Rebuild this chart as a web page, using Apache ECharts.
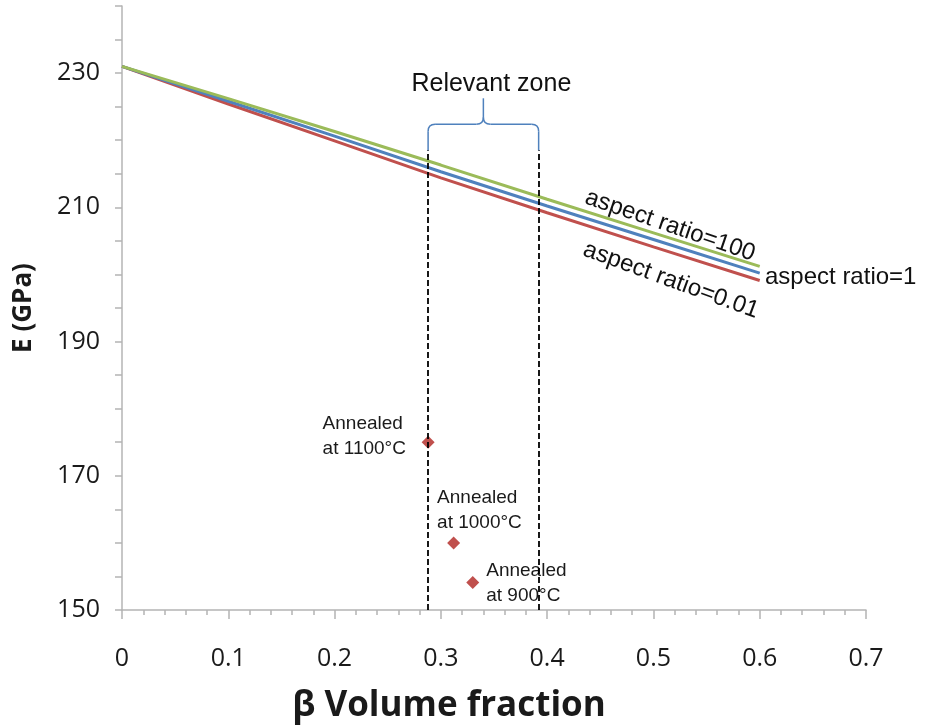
<!DOCTYPE html>
<html>
<head>
<meta charset="utf-8">
<script src="https://cdn.jsdelivr.net/npm/echarts@6/dist/echarts.min.js"></script>
<style>
  html, body { margin: 0; padding: 0; background: #fff; }
  #chart { width: 929px; height: 727px; }
</style>
</head>
<body>
<div id="chart"></div>
<script>
// beta volume fraction sample points
const xValues = [0, 0.1, 0.2, 0.3, 0.4, 0.5, 0.6]
// E (GPa) for each inclusion aspect ratio
const ratio100 = [231.0, 226.2, 221.3, 216.3, 211.2, 206.2, 201.2]
const ratio1 = [231.0, 225.8, 220.6, 215.3, 210.2, 205.2, 200.2]
const ratio001 = [231.0, 225.4, 219.9, 214.4, 209.2, 204.1, 199.1]

// measured annealed samples
const annealX = [0.288, 0.312, 0.330]
const annealE = [175.0, 160.0, 154.1]
const annealNames = ['Annealed\nat 1100°C', 'Annealed\nat 1000°C', 'Annealed\nat 900°C']
const annealLabelOffsets = [[-99, -24], [-10, -51], [20, -18]]

// relevant zone bounds
const zoneX = [0.288, 0.392]
const zoneTopE = 218.5

const yLabelValues = [150, 170, 190, 210, 230]

const axisColor = '#b4b4b4'
const textColor = '#1a1a1a'
const tickFont = 'Open Sans'
const noteFont = 'Liberation Sans'

const lineSeries = (name, values, color) => ({
  name,
  type: 'line',
  data: xValues.map((x, i) => [x, values[i]]),
  showSymbol: false,
  symbol: 'none',
  lineStyle: { color, width: 3 },
  z: 3,
})

const chart = echarts.init(document.getElementById('chart'))

const option = {
  animation: false,
  backgroundColor: '#fff',
  grid: {
    left: 122,
    right: 63,
    top: 6,
    bottom: 117,
    containLabel: false,
    outerBoundsMode: 'none',
  },
  xAxis: {
    type: 'value',
    min: 0,
    max: 0.7,
    interval: 0.1,
    name: 'β Volume fraction',
    nameLocation: 'middle',
    nameGap: 79,
    nameTextStyle: {
      fontFamily: tickFont,
      fontWeight: 'bold',
      fontSize: 35,
      color: textColor,
      padding: [0, 90, 0, 0],
    },
    axisLine: { show: true, onZero: false, lineStyle: { color: axisColor, width: 1.5 } },
    axisTick: { show: true, length: 9, lineStyle: { color: axisColor, width: 1.5 } },
    minorTick: { show: true, splitNumber: 5, length: 5, lineStyle: { color: axisColor, width: 1.5 } },
    splitLine: { show: false },
    axisLabel: {
      margin: 36,
      fontFamily: tickFont,
      fontSize: 25,
      color: textColor,
      formatter: (v) => String(+v.toFixed(1)),
    },
  },
  yAxis: {
    type: 'value',
    min: 150,
    max: 240,
    interval: 5,
    name: 'E (GPa)',
    nameLocation: 'middle',
    nameGap: 85,
    nameTextStyle: {
      fontFamily: tickFont,
      fontWeight: 'bold',
      fontSize: 26,
      color: textColor,
    },
    axisLine: { show: true, onZero: false, lineStyle: { color: axisColor, width: 1.5 } },
    axisTick: { show: true, length: 7, lineStyle: { color: axisColor, width: 1.5 } },
    splitLine: { show: false },
    axisLabel: {
      margin: 22,
      fontFamily: tickFont,
      fontSize: 25,
      color: textColor,
      formatter: (v) => (yLabelValues.includes(v) ? String(v) : ''),
    },
  },
  series: [
    lineSeries('aspect ratio=0.01', ratio001, '#C0504D'),
    lineSeries('aspect ratio=1', ratio1, '#4F81BD'),
    lineSeries('aspect ratio=100', ratio100, '#9BBB59'),
    {
      name: 'annealed',
      type: 'scatter',
      symbol: 'diamond',
      symbolSize: 13,
      itemStyle: { color: '#C0504D', opacity: 1 },
      z: 4,
      data: annealX.map((x, i) => ({
        value: [x, annealE[i]],
        label: {
          show: true,
          position: annealLabelOffsets[i],
          formatter: annealNames[i],
          fontFamily: noteFont,
          fontSize: 19,
          lineHeight: 25,
          color: '#1a1a1a',
          opacity: 1,
          align: 'left',
        },
      })),
      markLine: {
        silent: true,
        symbol: 'none',
        label: { show: false },
        lineStyle: { color: '#000', type: [6, 3], width: 1.8, opacity: 1 },
        data: zoneX.map((x) => [{ coord: [x, 150] }, { coord: [x, zoneTopE] }]),
      },
    },
  ],
}

chart.setOption(option)

// annotations placed from data coordinates
const [xL, yB] = chart.convertToPixel({ gridIndex: 0 }, [zoneX[0], zoneTopE])
const [xR] = chart.convertToPixel({ gridIndex: 0 }, [zoneX[1], zoneTopE])
const xC = (xL + xR) / 2
const yH = yB - 26
const yP = yB - 52
const r = 7
const braceStyle = { stroke: '#4F81BD', fill: 'none', lineWidth: 1.5 }

const braceParts = [
  { type: 'line', shape: { x1: xL, y1: yB, x2: xL, y2: yH + r } },
  { type: 'bezierCurve', shape: { x1: xL, y1: yH + r, x2: xL + r, y2: yH, cpx1: xL, cpy1: yH } },
  { type: 'line', shape: { x1: xL + r, y1: yH, x2: xC - r, y2: yH } },
  { type: 'bezierCurve', shape: { x1: xC - r, y1: yH, x2: xC, y2: yH - r, cpx1: xC, cpy1: yH } },
  { type: 'line', shape: { x1: xC, y1: yH - r, x2: xC, y2: yP } },
  { type: 'bezierCurve', shape: { x1: xC, y1: yH - r, x2: xC + r, y2: yH, cpx1: xC, cpy1: yH } },
  { type: 'line', shape: { x1: xC + r, y1: yH, x2: xR - r, y2: yH } },
  { type: 'bezierCurve', shape: { x1: xR - r, y1: yH, x2: xR, y2: yH + r, cpx1: xR, cpy1: yH } },
  { type: 'line', shape: { x1: xR, y1: yH + r, x2: xR, y2: yB } },
].map((p) => ({ ...p, style: braceStyle, z: 10 }))

const noteStyle = (text, size) => ({
  text,
  fill: '#111',
  font: `${size}px "${noteFont}"`,
})

chart.setOption({
  graphic: [
    ...braceParts,
    {
      type: 'text',
      x: xC + 8,
      y: yP - 2,
      style: { ...noteStyle('Relevant zone', 25), align: 'center', verticalAlign: 'bottom' },
      z: 10,
    },
    {
      type: 'text',
      x: 582,
      y: 208,
      rotation: -19 * Math.PI / 180,
      style: { ...noteStyle('aspect ratio=100', 24), align: 'left', verticalAlign: 'bottom' },
      z: 10,
    },
    {
      type: 'text',
      x: 580,
      y: 260,
      rotation: -20 * Math.PI / 180,
      style: { ...noteStyle('aspect ratio=0.01', 24), align: 'left', verticalAlign: 'bottom' },
      z: 10,
    },
    {
      type: 'text',
      x: 765,
      y: 277,
      style: { ...noteStyle('aspect ratio=1', 24), align: 'left', verticalAlign: 'middle' },
      z: 10,
    },
  ],
})
</script>
</body>
</html>
